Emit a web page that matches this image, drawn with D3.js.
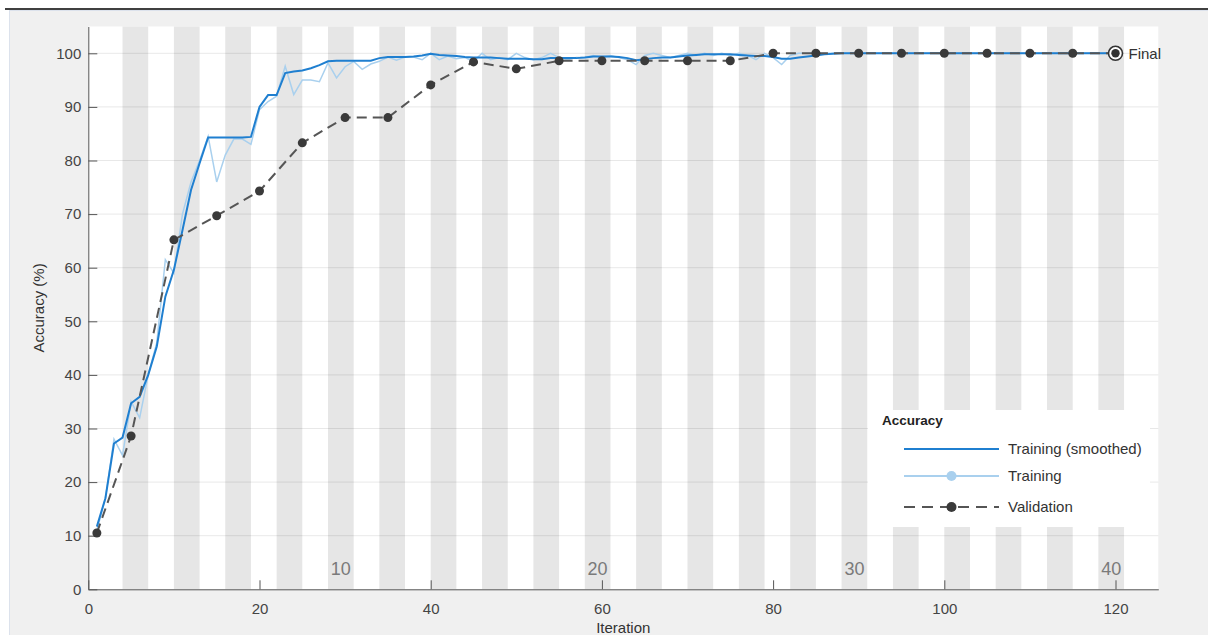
<!DOCTYPE html>
<html>
<head>
<meta charset="UTF-8">
<title>Training Progress - Accuracy</title>
<script src="https://d3js.org/d3.v7.min.js"></script>
<style>
  html, body { margin: 0; padding: 0; background: #fff; }
  svg { display: block; font-family: "Liberation Sans", Arial, Helvetica, sans-serif; }
  .tick text { fill: #444; font-size: 15px; }
  .axis path, .axis line { stroke: #555; }
</style>
</head>
<body>
<div id="chart"></div>
<script>
// accuracy per iteration (iteration = index + 1)
const trainingRaw = [
  11, 17, 28, 25, 35, 32, 40, 46, 61.5, 59,
  70, 76, 80, 84.5, 76, 81, 84, 84, 83, 89.5,
  91, 92, 97.6, 92.3, 95, 95, 94.7, 98.2, 95.4, 97.5,
  98.5, 97, 98, 98.5, 99.3, 98.7, 99.3, 99.3, 98.8, 100,
  98.8, 99.5, 99, 99.2, 98.5, 100, 98.8, 99.2, 98.8, 100,
  99.2, 98.8, 99.2, 100, 99.2, 98.8, 99.2, 99.2, 99.6, 99.2,
  99.6, 99.2, 98.8, 97.9, 99.6, 100, 99.6, 99.2, 99.6, 100,
  99.6, 100, 99.6, 100, 99.6, 100, 99.6, 98.8, 100, 99.2,
  97.9, 99.6, 100, 100, 100, 100, 100, 100, 100, 100,
  100, 100, 100, 100, 100, 100, 100, 100, 100, 100,
  100, 100, 100, 100, 100, 100, 100, 100, 100, 100,
  100, 100, 100, 100, 100, 100, 100, 100, 100, 100
];
const trainingSmoothed = [
  11.7, 17, 27.2, 28.3, 34.7, 35.9, 40, 45.3, 54.6, 59.6,
  67, 74.5, 79.5, 84.3, 84.3, 84.3, 84.3, 84.3, 84.4, 90,
  92.2, 92.2, 96.3, 96.6, 96.8, 97.2, 97.8, 98.5, 98.6, 98.6,
  98.6, 98.6, 98.6, 99.1, 99.3, 99.3, 99.3, 99.4, 99.6, 99.9,
  99.7, 99.6, 99.5, 99.3, 99.2, 99.2, 99.2, 99.1, 99, 99,
  99, 98.9, 98.9, 99.1, 99.1, 99.1, 99.1, 99.2, 99.4, 99.4,
  99.4, 99.3, 99.1, 98.7, 98.9, 99.1, 99.2, 99.2, 99.4, 99.6,
  99.7, 99.8, 99.8, 99.8, 99.8, 99.7, 99.6, 99.5, 99.5, 99.3,
  99, 99, 99.2, 99.4, 99.6, 99.8, 99.9, 100, 100, 100,
  100, 100, 100, 100, 100, 100, 100, 100, 100, 100,
  100, 100, 100, 100, 100, 100, 100, 100, 100, 100,
  100, 100, 100, 100, 100, 100, 100, 100, 100, 100
];
const validationIter = [1, 5, 10, 15, 20, 25, 30, 35, 40, 45, 50, 55, 60, 65, 70, 75, 80, 85, 90, 95, 100, 105, 110, 115, 120];
const validationAcc  = [10.5, 28.6, 65.2, 69.7, 74.3, 83.3, 88, 88, 94.1, 98.4, 97.1, 98.6, 98.6, 98.6, 98.6, 98.6, 100, 100, 100, 100, 100, 100, 100, 100, 100];
const numEpochs = 40;
const itersPerEpoch = 3;
const epochLabels = [10, 20, 30, 40];
const xTicks = [0, 20, 40, 60, 80, 100, 120];
const yTicks = [0, 10, 20, 30, 40, 50, 60, 70, 80, 90, 100];

const W = 1208, H = 635;
const svg = d3.select("#chart").append("svg").attr("width", W).attr("height", H);

// figure panel
svg.append("rect").attr("x", 9).attr("y", 10).attr("width", W - 9).attr("height", H - 10).attr("fill", "#f0f0f0");
svg.append("line").attr("x1", 9.5).attr("x2", 9.5).attr("y1", 10).attr("y2", H).attr("stroke", "#dce2ec");
svg.append("line").attr("x1", 9).attr("x2", W).attr("y1", 10.5).attr("y2", 10.5).attr("stroke", "#dce2ec");
svg.append("line").attr("x1", 5).attr("x2", W).attr("y1", 9).attr("y2", 9).attr("stroke", "#000").attr("stroke-width", 1.5);

const x = d3.scaleLinear().domain([0, 125]).range([88.3, 1158.3]);
const y = d3.scaleLinear().domain([0, 105]).range([589.3, 26.5]);

// plot background
svg.append("rect")
  .attr("x", x(0)).attr("y", y(105))
  .attr("width", x(125) - x(0)).attr("height", y(0) - y(105))
  .attr("fill", "#fff");

// epoch shading (even epochs)
const evenEpochs = d3.range(2, numEpochs + 1, 2);
svg.append("g").selectAll("rect").data(evenEpochs).enter().append("rect")
  .attr("x", e => x((e - 1) * itersPerEpoch + 1))
  .attr("width", e => x(e * itersPerEpoch + 1) - x((e - 1) * itersPerEpoch + 1))
  .attr("y", y(105)).attr("height", y(0) - y(105))
  .attr("fill", "#e6e6e6");

// horizontal grid
svg.append("g").selectAll("line").data(yTicks.slice(1)).enter().append("line")
  .attr("x1", x(0)).attr("x2", x(125))
  .attr("y1", d => y(d)).attr("y2", d => y(d))
  .attr("stroke", "rgba(0,0,0,0.09)");

// epoch labels
svg.append("g").selectAll("text").data(epochLabels).enter().append("text")
  .attr("x", e => x((e - 0.5) * itersPerEpoch + 1))
  .attr("y", 575)
  .attr("text-anchor", "middle")
  .attr("font-size", 18)
  .attr("fill", "#7a7a7a")
  .text(d => d);

// axes
const xAxis = svg.append("g").attr("class", "axis")
  .attr("transform", `translate(0,${y(0)})`)
  .call(d3.axisBottom(x).tickValues(xTicks).tickSize(-9).tickPadding(14).tickSizeOuter(0));
const yAxis = svg.append("g").attr("class", "axis")
  .attr("transform", `translate(${x(0)},0)`)
  .call(d3.axisLeft(y).tickValues(yTicks).tickSize(-9).tickPadding(7).tickSizeOuter(0));
xAxis.select(".domain").attr("stroke", "#555");
yAxis.select(".domain").attr("stroke", "#555");

svg.append("text")
  .attr("transform", `translate(44,${(y(0) + y(105)) / 2}) rotate(-90)`)
  .attr("text-anchor", "middle")
  .attr("font-size", 15)
  .attr("fill", "#333")
  .text("Accuracy (%)");
svg.append("text")
  .attr("x", (x(0) + x(125)) / 2).attr("y", 633)
  .attr("text-anchor", "middle")
  .attr("font-size", 15)
  .attr("fill", "#333")
  .text("Iteration");

// curves
const line = d3.line().x((d, i) => x(i + 1)).y(d => y(d));
svg.append("path").datum(trainingRaw)
  .attr("d", line).attr("fill", "none")
  .attr("stroke", "#a9d0ee").attr("stroke-width", 1.5);
svg.append("path").datum(trainingSmoothed)
  .attr("d", line).attr("fill", "none")
  .attr("stroke", "#1f7fd0").attr("stroke-width", 2);

const valData = validationIter.map((it, i) => ({ it, v: validationAcc[i] }));
svg.append("path").datum(valData)
  .attr("d", d3.line().x(d => x(d.it)).y(d => y(d.v)))
  .attr("fill", "none")
  .attr("stroke", "#555").attr("stroke-width", 2)
  .attr("stroke-dasharray", "10,6");
svg.append("g").selectAll("circle").data(valData).enter().append("circle")
  .attr("cx", d => x(d.it)).attr("cy", d => y(d.v))
  .attr("r", 4.5).attr("fill", "#3a3a3a");

// final marker
const last = valData[valData.length - 1];
svg.append("circle").attr("cx", x(last.it)).attr("cy", y(last.v))
  .attr("r", 7).attr("fill", "#fff").attr("stroke", "#333").attr("stroke-width", 1.6);
svg.append("circle").attr("cx", x(last.it)).attr("cy", y(last.v))
  .attr("r", 4.2).attr("fill", "#333");
svg.append("text").attr("x", x(last.it) + 13).attr("y", y(last.v) + 5.5)
  .attr("font-size", 15).attr("fill", "#333").text("Final");

// legend
const lg = svg.append("g");
lg.append("rect").attr("x", 868).attr("y", 410).attr("width", 282).attr("height", 117).attr("fill", "#fff");
lg.append("text").attr("x", 882).attr("y", 425).attr("font-size", 13.5).attr("font-weight", "bold").attr("fill", "#222").text("Accuracy");
const entries = [
  { label: "Training (smoothed)", y: 449, color: "#1f7fd0", w: 2, dash: null, marker: null },
  { label: "Training", y: 476, color: "#a9d0ee", w: 2, dash: null, marker: "#a9d0ee" },
  { label: "Validation", y: 507, color: "#555", w: 2, dash: "11,7", marker: "#3a3a3a" }
];
entries.forEach(e => {
  lg.append("line").attr("x1", 904).attr("x2", 999).attr("y1", e.y).attr("y2", e.y)
    .attr("stroke", e.color).attr("stroke-width", e.w)
    .attr("stroke-dasharray", e.dash);
  if (e.marker) lg.append("circle").attr("cx", 951.5).attr("cy", e.y).attr("r", 5).attr("fill", e.marker);
  lg.append("text").attr("x", 1008).attr("y", e.y + 5).attr("font-size", 15).attr("fill", "#333").text(e.label);
});
</script>
</body>
</html>
